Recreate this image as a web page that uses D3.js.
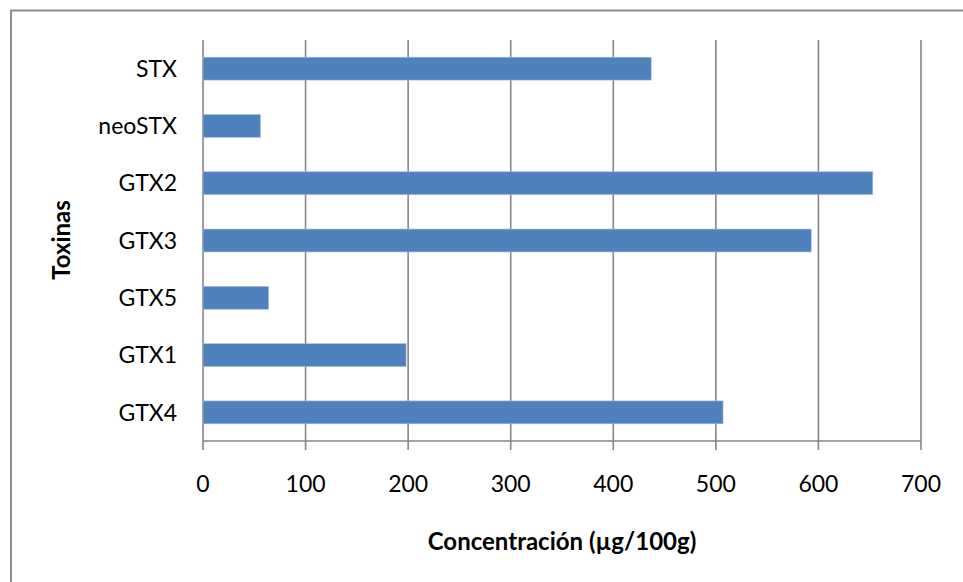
<!DOCTYPE html>
<html>
<head>
<meta charset="utf-8">
<script src="https://cdn.jsdelivr.net/npm/d3@7"></script>
<style>
  html, body { margin: 0; padding: 0; background: #fff; }
  svg { display: block; }
</style>
</head>
<body>
<svg id="chart" width="963" height="582"></svg>
<script>
// Toxin profile: concentration per toxin (µg/100g)
const toxins = ["STX", "neoSTX", "GTX2", "GTX3", "GTX5", "GTX1", "GTX4"];
const concentrations = [437, 56, 653, 593, 64, 198, 507];
const xTicks = [0, 100, 200, 300, 400, 500, 600, 700];
const xTitle = "Concentración (µg/100g)";
const yTitle = "Toxinas";

const svg = d3.select("#chart");
const margin = { left: 203, right: 42, top: 40, bottom: 141 };
const W = 963, H = 582;
const fontFamily = "Lato, 'Open Sans', sans-serif";
const gridColor = "#868686";

// outer frame (extends past the right and bottom edges)
svg.append("rect")
  .attr("x", 11).attr("y", 10.5)
  .attr("width", 1000).attr("height", 1000)
  .attr("fill", "none")
  .attr("stroke", "#8c8c8c")
  .attr("stroke-width", 2);

const x = d3.scaleLinear()
  .domain([0, 700])
  .range([margin.left, W - margin.right]);

const y = d3.scaleBand()
  .domain(toxins)
  .range([margin.top, H - margin.bottom])
  .paddingInner(0.6)
  .paddingOuter(0.3);

const plotBottom = H - margin.bottom;

// vertical gridlines, continuing below the axis as tick marks
svg.append("g")
  .selectAll("line")
  .data(xTicks)
  .join("line")
  .attr("x1", d => x(d)).attr("x2", d => x(d))
  .attr("y1", margin.top).attr("y2", plotBottom + 9)
  .attr("stroke", gridColor)
  .attr("stroke-width", 1.6);

// bars
svg.append("g")
  .selectAll("rect")
  .data(toxins.map((t, i) => ({ t, v: concentrations[i] })))
  .join("rect")
  .attr("x", x(0))
  .attr("y", d => y(d.t))
  .attr("width", d => x(d.v) - x(0))
  .attr("height", y.bandwidth())
  .attr("fill", "#4F81BD")
  .attr("stroke", "#a9c0df")
  .attr("stroke-width", 0.6);

// x axis line
svg.append("line")
  .attr("x1", x(0)).attr("x2", x(700))
  .attr("y1", plotBottom).attr("y2", plotBottom)
  .attr("stroke", gridColor)
  .attr("stroke-width", 1.6);

// x tick labels
svg.append("g")
  .selectAll("text")
  .data(xTicks)
  .join("text")
  .attr("x", d => x(d))
  .attr("y", 492)
  .attr("text-anchor", "middle")
  .attr("font-family", fontFamily)
  .attr("font-size", 23)
  .attr("fill", "#000")
  .text(d => d);

// y category labels
svg.append("g")
  .selectAll("text")
  .data(toxins)
  .join("text")
  .attr("x", 177)
  .attr("y", d => y(d) + y.bandwidth() / 2)
  .attr("dy", "0.36em")
  .attr("text-anchor", "end")
  .attr("font-family", fontFamily)
  .attr("font-size", 23)
  .attr("fill", "#000")
  .text(d => d);

// axis titles
svg.append("text")
  .attr("x", 562)
  .attr("y", 550)
  .attr("text-anchor", "middle")
  .attr("font-family", fontFamily)
  .attr("font-weight", "bold")
  .attr("font-size", 24)
  .attr("fill", "#000")
  .text(xTitle);

svg.append("text")
  .attr("transform", "translate(70,240) rotate(-90)")
  .attr("text-anchor", "middle")
  .attr("font-family", fontFamily)
  .attr("font-weight", "bold")
  .attr("font-size", 24)
  .attr("fill", "#000")
  .text(yTitle);
</script>
</body>
</html>
